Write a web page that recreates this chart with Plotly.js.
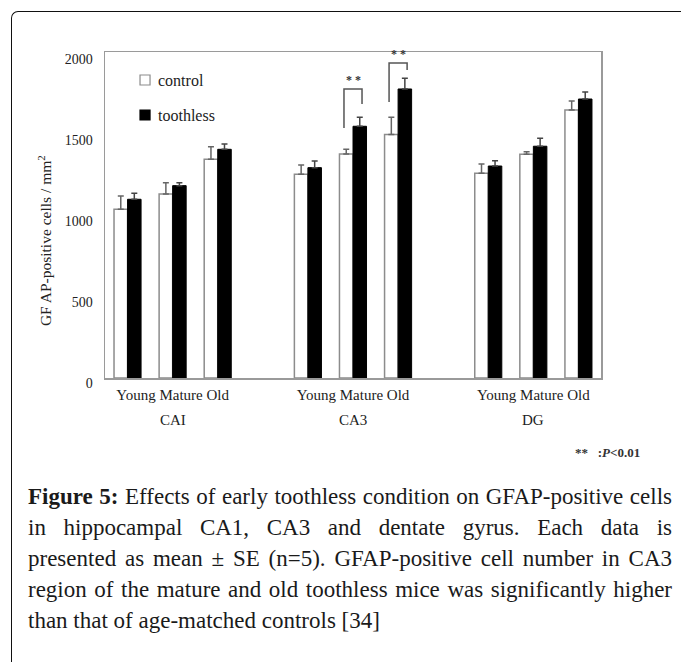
<!DOCTYPE html>
<html>
<head>
<meta charset="utf-8">
<script src="https://cdn.plot.ly/plotly-3.0.1.min.js"></script>
<style>
  html, body { margin: 0; padding: 0; background: #fff; }
  #wrap { position: relative; width: 681px; height: 662px; overflow: hidden; background: #fff; }
  #frame { position: absolute; left: 11px; top: 11px; width: 700px; height: 700px;
           border-left: 1.6px solid #111; border-top: 1.6px solid #111; border-top-left-radius: 7px; }
  #chart { position: absolute; left: 0; top: 0; width: 681px; height: 662px; }
  #caption { position: absolute; left: 28px; top: 481px; width: 644px;
             font-family: "Liberation Serif", serif; font-size: 23px; line-height: 31px; color: #1a1a1a; }
  #caption .ln { display: block; text-align: justify; text-align-last: justify; white-space: nowrap; }
  #caption .last { display: block; text-align: left; }
</style>
</head>
<body>
<div id="wrap">
  <div id="frame"></div>
  <div id="chart"></div>
  <div id="caption">
    <span class="ln"><b>Figure 5:</b> Effects of early toothless condition on GFAP-positive cells</span>
    <span class="ln">in hippocampal CA1, CA3 and dentate gyrus. Each data is</span>
    <span class="ln">presented as mean ± SE (n=5). GFAP-positive cell number in CA3</span>
    <span class="ln">region of the mature and old toothless mice was significantly higher</span>
    <span class="last">than that of age-matched controls [34]</span>
  </div>
</div>
<script>
// ---- data ----
const regions = ['CAI', 'CA3', 'DG'];
const ageLabels = ['Young', 'Mature', 'Old'];
const xPos = [0, 1, 2, 4, 5, 6, 8, 9, 10];          // Young/Mature/Old for each region
const groupCenters = [1, 5, 9];
const seriesNames = ['control', 'toothless'];
const controlMean = [1040, 1134, 1348, 1256, 1381, 1502, 1262, 1379, 1652];
const controlSE   = [82, 70, 78, 57, 29, 105, 57, 16, 56];
const toothlessMean = [1102, 1186, 1410, 1297, 1552, 1782, 1307, 1429, 1720];
const toothlessSE   = [37, 18, 33, 41, 55, 66, 33, 49, 43];
// significance brackets (CA3 mature, CA3 old)
const sigX = [5, 6];
const sigTop = [1782, 1942];
const sigLeftBottom = [1541, 1702];
const sigRightBottom = [1689, 1899];
const sigLabel = ['* *', '* *'];

const serif = 'Liberation Serif, Times New Roman, serif';
const zeros = controlMean.map(() => 0);
const fills = ['#ffffff', '#000000'];
const outlines = ['#8c8c8c', '#000000'];

const traces = [
  {
    type: 'bar', name: seriesNames[0], x: xPos, y: controlMean,
    width: 0.3, offset: -0.3, showlegend: false,
    marker: { color: fills[0], line: { color: outlines[0], width: 1.5 } },
    error_y: { type: 'data', symmetric: false, array: controlSE, arrayminus: zeros,
               color: '#666', thickness: 1.5, width: 3 },
    hoverinfo: 'skip'
  },
  {
    type: 'bar', name: seriesNames[1], x: xPos, y: toothlessMean,
    width: 0.3, offset: 0, showlegend: false,
    marker: { color: fills[1], line: { color: outlines[1], width: 1 } },
    error_y: { type: 'data', symmetric: false, array: toothlessSE, arrayminus: zeros,
               color: '#444', thickness: 1.5, width: 3 },
    hoverinfo: 'skip'
  }
];

const shapes = sigX.map((x, i) => ({
  type: 'path', xref: 'x', yref: 'y',
  path: `M ${x - 0.2},${sigLeftBottom[i]} L ${x - 0.2},${sigTop[i]} L ${x + 0.2},${sigTop[i]} L ${x + 0.2},${sigRightBottom[i]}`,
  line: { color: '#555', width: 1.5 }
}));

const annotations = [];

// legend (drawn in-plot, upper left)
const legX = 0.0706, legSym = 0.0202, legTextX = 0.1028;
const legY = [0.9141, 0.8067], legHalf = 0.0153;
seriesNames.forEach((nm, i) => {
  shapes.push({
    type: 'rect', xref: 'paper', yref: 'paper',
    x0: legX, x1: legX + legSym, y0: legY[i] - legHalf, y1: legY[i] + legHalf,
    fillcolor: fills[i], line: { color: outlines[i], width: 1.2 }
  });
  annotations.push({
    x: legTextX, y: legY[i], xref: 'paper', yref: 'paper', text: nm, showarrow: false,
    xanchor: 'left', yanchor: 'middle', font: { family: serif, size: 16, color: '#222' }
  });
});

sigX.forEach((x, i) => annotations.push({
  x: x, y: sigTop[i], xref: 'x', yref: 'y', text: '<b>' + sigLabel[i] + '</b>', showarrow: false,
  yanchor: 'bottom', yshift: 0, font: { family: serif, size: 12, color: '#333' }
}));
groupCenters.forEach((x, i) => annotations.push({
  x: x, y: 0, xref: 'x', yref: 'paper', text: regions[i], showarrow: false,
  yanchor: 'middle', yshift: -42, font: { family: serif, size: 15, color: '#222' }
}));
annotations.push({
  x: 0, y: 0.42, xref: 'paper', yref: 'paper', xshift: -60, textangle: -90,
  text: 'GF AP-positive cells / mm<sup>2</sup>', showarrow: false,
  xanchor: 'center', yanchor: 'middle', font: { family: serif, size: 15.5, color: '#222' }
});
annotations.push({
  x: 1, y: 0, xref: 'paper', yref: 'paper', xshift: 6, yshift: -74,
  text: '<b>**   :<i>P</i>&lt;0.01</b>', showarrow: false,
  xanchor: 'center', yanchor: 'middle', font: { family: serif, size: 13, color: '#333' }
});

const layout = {
  width: 681, height: 662,
  margin: { l: 105, r: 80, t: 52, b: 284 },
  paper_bgcolor: 'rgba(0,0,0,0)', plot_bgcolor: 'rgba(0,0,0,0)',
  font: { family: serif, color: '#222' },
  showlegend: false,
  xaxis: {
    range: [-0.5, 10.5], showgrid: false, zeroline: false,
    showline: true, mirror: true, linecolor: '#9a9a9a', linewidth: 1.5,
    ticks: '', tickvals: groupCenters,
    ticktext: groupCenters.map(() => ageLabels.join(' ')),
    ticklabelstandoff: 2,
    tickfont: { family: serif, size: 15, color: '#222' }
  },
  yaxis: {
    range: [0, 2010], showgrid: false, zeroline: false,
    showline: true, mirror: true, linecolor: '#9a9a9a', linewidth: 1.5,
    ticks: '', tickvals: [0, 500, 1000, 1500, 2000], ticklabelstandoff: 8,
    ticklabelshift: 5,
    tickfont: { family: serif, size: 14, color: '#222' }
  },
  shapes: shapes,
  annotations: annotations
};

Plotly.newPlot('chart', traces, layout, { displayModeBar: false, staticPlot: true });
</script>
</body>
</html>
